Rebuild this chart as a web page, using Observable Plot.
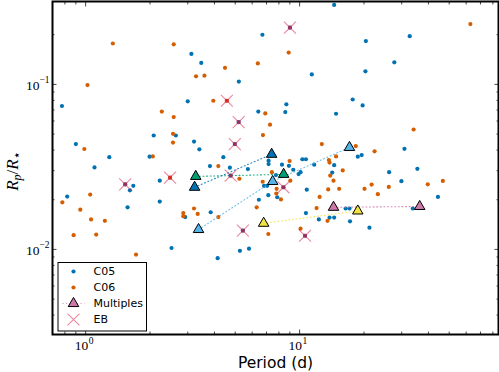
<!DOCTYPE html>
<html><head><meta charset="utf-8">
<script src="https://cdn.jsdelivr.net/npm/d3@7"></script>
<script src="https://cdn.jsdelivr.net/npm/@observablehq/plot@0.6"></script>
<style>
html,body{margin:0;padding:0;background:#fff;}
#chart{width:499px;height:372px;}
</style></head><body><div id="chart"></div>
<script>
// ---- Data ----
const c05Period = [3.12,3.47,5.2,3.0,0.775,2.64,2.08,3.21,3.40,0.90,1.29,1.99,4.40,1.10,3.81,4.72,5.73,2.22,1.67,1.61,0.82,1.57,2.22,3.84,2.92,2.52,4.14,5.26,5.80,
  14.5,6.7,20.4,32.7,27.7,20.3,11.4,17.7,19.7,6.41,8.67,8.57,14.8,30.9,10.3,10.7,18.7,19.5,7.16,7.16,8.27,8.91,11.7,9.34,10.1,9.89,14.5,14.2,26.2,35.5,29.9,7.75,6.82,7.05,10.8,
  7.14,7.86,6.45,10.7,12.3,13.8,14.5,16.4,17.1,17.2,21.2,33.8,44.3];
const c05Ratio = [0.153,0.135,0.104,0.079,0.074,0.049,0.049,0.045,0.0404,0.0435,0.0362,0.0365,0.0362,0.0314,0.032,0.0313,0.0307,0.0261,0.0243,0.0228,0.0209,0.018,0.0195,0.0168,0.0157,0.0102,0.00885,0.0098,0.0101,
  0.303,0.200,0.183,0.196,0.136,0.120,0.115,0.081,0.0746,0.0684,0.0757,0.068,0.0664,0.0407,0.0352,0.0352,0.0365,0.0373,0.0345,0.0329,0.0326,0.0321,0.0326,0.0304,0.0294,0.0286,0.0324,0.0292,0.0294,0.0308,0.0259,0.0282,0.0243,0.0243,0.0230,
  0.0213,0.0207,0.0200,0.0166,0.0152,0.0156,0.0156,0.0177,0.0177,0.0148,0.01355,0.0177,0.0208];

const c06Period = [1.34,2.58,1.02,3.28,3.59,4.48,3.95,2.27,2.58,2.56,2.56,0.986,2.06,4.17,5.23,
  62.8,8.89,6.38,6.91,7.27,6.74,34.1,12.7,18.3,22.4,14.8,13.7,13.8,8.98,15.9,7.42,6.72,9.05,13.9,14.4,15.3,13.6,20.1,21.7,26.1,39.7,46.7,7.81,
  7.78,8.18,6.30,7.14,10.1,12.0,12.4,13.5,23.2,
  0.778,1.05,0.944,1.06,1.23,0.879,1.12,1.72,2.86,2.86,3.21,3.34,4.17];
const c06Ratio = [0.177,0.175,0.099,0.112,0.113,0.126,0.0796,0.0684,0.0634,0.0502,0.0444,0.0406,0.0366,0.032,0.0268,
  0.232,0.156,0.134,0.0667,0.057,0.0493,0.0533,0.0435,0.0423,0.0393,0.0366,0.0348,0.0336,0.0343,0.0301,0.0294,0.0257,0.0261,0.028,0.0261,0.0233,0.0231,0.0233,0.0247,0.0239,0.0248,0.026,0.0233,
  0.0218,0.0201,0.018,0.0124,0.01335,0.0178,0.0208,0.0149,0.0216,
  0.0193,0.0215,0.0174,0.0152,0.0149,0.0122,0.0123,0.0093,0.0166,0.0159,0.0177,0.0164,0.0157];

const ebPeriod  = [4.57,2.48,5.19,4.98,1.53,4.76,9.01,8.40,5.43,10.6];
const ebRatio   = [0.0796,0.0272,0.0591,0.0435,0.0248,0.028,0.221,0.0238,0.0130,0.0121];
const ebCatalog = ["C06","C06","C05","C05","C05","C05","C05","C05","C05","C05"];

const multSystem = ["A","A","B","B","C","C","C","D","D","E","E"];
const multPeriod = [3.27,8.42, 3.23,7.40, 3.37,7.48,17.1, 6.79,18.7, 14.4,36.4];
const multRatio  = [0.0277,0.0285, 0.0238,0.0377, 0.0132,0.0258,0.0415, 0.0144,0.0171, 0.0180,0.0182];
const systemNames = ["A","B","C","D","E"];
const systemColors = ["#009E73","#0072B2","#56B4E9","#F0E442","#CC79A7"];

const xMajor = [1, 10];
const xTickExp = ["0", "1"];
const xMinor = [0.7,0.8,0.9,2,3,4,5,6,7,8,9,20,30,40,50,60,70,80];
const yMajor = [0.01, 0.1];
const yTickExp = ["\u22122", "\u22121"];
const yMinor = [0.004,0.005,0.006,0.007,0.008,0.009,0.02,0.03,0.04,0.05,0.06,0.07,0.08,0.09,0.2];

const legendLabels = ["C05", "C06", "Multiples", "EB"];

const BLUE = "#0072B2", ORANGE = "#D55E00", EBC = "crimson";

// ---- tables ----
const c05 = c05Period.map((p, i) => ({period: p, ratio: c05Ratio[i]}));
const c06 = c06Period.map((p, i) => ({period: p, ratio: c06Ratio[i]}));
const eb = ebPeriod.map((p, i) => ({period: p, ratio: ebRatio[i], cat: ebCatalog[i]}));
const mult = multPeriod.map((p, i) => ({period: p, ratio: multRatio[i], sys: multSystem[i]}));

const serif = "'Liberation Serif', 'DejaVu Serif', serif";
const sans = "'DejaVu Sans', sans-serif";

const tickOpts = (anchor, size) => ({anchor, tickSize: size, tickFormat: () => "", label: null, stroke: "#444", strokeWidth: 1});

const lineSymbol = {draw(ctx) { ctx.moveTo(-11, 0); ctx.lineTo(11, 0); }};

const legendRowsDy = [-63, -47, -31, -15];
const dotted = {strokeWidth: 1.1, strokeDasharray: "1,2.6", strokeOpacity: 0.85};

const marks = [
  // data
  Plot.dot(c05, {x: "period", y: "ratio", r: 2.1, fill: BLUE}),
  Plot.dot(c06, {x: "period", y: "ratio", r: 2.1, fill: ORANGE}),
  ...systemNames.map((s, k) => Plot.line(mult.filter(m => m.sys === s), {x: "period", y: "ratio", stroke: systemColors[k], ...dotted})),
  ...systemNames.map((s, k) => Plot.dot(mult.filter(m => m.sys === s), {x: "period", y: "ratio", symbol: "triangle", r: 3.9, fill: systemColors[k], stroke: "black", strokeWidth: 1})),
  Plot.dot(eb.filter(d => d.cat === "C05"), {x: "period", y: "ratio", r: 2.1, fill: BLUE}),
  Plot.dot(eb.filter(d => d.cat === "C06"), {x: "period", y: "ratio", r: 2.1, fill: ORANGE}),
  Plot.dot(eb, {x: "period", y: "ratio", symbol: "square", r: 2.2, fill: EBC, fillOpacity: 0.5}),
  Plot.dot(eb, {x: "period", y: "ratio", symbol: "times", r: 5.5, stroke: EBC, strokeOpacity: 0.5, strokeWidth: 1.1}),

  // ticks (inward, all four sides)
  Plot.axisX(xMajor, tickOpts("bottom", -4.5)),
  Plot.axisX(xMajor, tickOpts("top", -4.5)),
  Plot.axisX(xMinor, tickOpts("bottom", -2.5)),
  Plot.axisX(xMinor, tickOpts("top", -2.5)),
  Plot.axisY(yMajor, tickOpts("left", -4.5)),
  Plot.axisY(yMajor, tickOpts("right", -4.5)),
  Plot.axisY(yMinor, tickOpts("left", -2.5)),
  Plot.axisY(yMinor, tickOpts("right", -2.5)),

  // tick labels 10^n
  Plot.text(xMajor, {x: d => d, frameAnchor: "bottom", text: () => "10", textAnchor: "end", dx: 2.5, dy: 11, lineAnchor: "middle", fontSize: 13.5, fontFamily: serif, fill: "black"}),
  Plot.text(xMajor, {x: d => d, frameAnchor: "bottom", text: (d, i) => xTickExp[i], textAnchor: "start", dx: 3, dy: 6.5, lineAnchor: "middle", fontSize: 9.5, fontFamily: serif, fill: "black"}),
  Plot.text(yMajor, {y: d => d, frameAnchor: "left", text: () => "10", textAnchor: "end", dx: -13, dy: 1, lineAnchor: "middle", fontSize: 13.5, fontFamily: serif, fill: "black"}),
  Plot.text(yMajor, {y: d => d, frameAnchor: "left", text: (d, i) => yTickExp[i], textAnchor: "start", dx: -13, dy: -4, lineAnchor: "middle", fontSize: 9.5, fontFamily: serif, fill: "black"}),

  // x label
  Plot.text(["Period (d)"], {frameAnchor: "bottom", text: d => d, dy: 29, lineAnchor: "middle", fontSize: 15.5, fontFamily: sans, fill: "black"}),

  // frame
  Plot.frame({stroke: "black", strokeWidth: 2}),

  // legend
  Plot.frame({fill: "white", stroke: "black", strokeWidth: 1, insetLeft: 5.5, insetRight: 352, insetTop: 261, insetBottom: 3.5}),
  Plot.dot([0], {frameAnchor: "bottom-left", dx: 21, dy: legendRowsDy[0], r: 2.1, fill: BLUE}),
  Plot.dot([0], {frameAnchor: "bottom-left", dx: 21, dy: legendRowsDy[1], r: 2.1, fill: ORANGE}),
  Plot.dot([0], {frameAnchor: "bottom-left", dx: 21, dy: legendRowsDy[2], symbol: lineSymbol, r: 5, stroke: "#CC79A7", ...dotted}),
  Plot.dot([0], {frameAnchor: "bottom-left", dx: 21, dy: legendRowsDy[2], symbol: "triangle", r: 3.9, fill: "#CC79A7", stroke: "black", strokeWidth: 1}),
  Plot.dot([0], {frameAnchor: "bottom-left", dx: 21, dy: legendRowsDy[3], symbol: "times", r: 5.5, stroke: EBC, strokeOpacity: 0.5, strokeWidth: 1.1}),
  ...legendLabels.map((lab, i) => Plot.text([lab], {frameAnchor: "bottom-left", text: d => d, dx: 41, dy: legendRowsDy[i], textAnchor: "start", lineAnchor: "middle", fontSize: 11, fontFamily: sans, fill: "black"}))
];

const chart = Plot.plot({
  width: 499, height: 372,
  marginLeft: 52, marginRight: 1, marginTop: 1, marginBottom: 38,
  x: {type: "log", domain: [0.7, 85]},
  y: {type: "log", domain: [0.00305, 0.318]},
  style: {background: "#fff", fontFamily: sans, overflow: "visible"},
  marks
});

// y label R_p / R_star with sub-scripts
const svg = d3.select(chart);
const t = svg.append("text")
  .attr("transform", "translate(18,171) rotate(-90)")
  .attr("text-anchor", "middle")
  .attr("font-family", serif)
  .attr("font-size", 17)
  .attr("fill", "black");
t.append("tspan").attr("font-style", "italic").text("R");
t.append("tspan").attr("font-style", "italic").attr("font-size", 12).attr("dy", 3).text("p");
t.append("tspan").attr("dy", -3).text("/");
t.append("tspan").attr("font-style", "italic").text("R");
t.append("tspan").attr("font-size", 13).attr("dy", 3).attr("font-family", "'DejaVu Sans', sans-serif").text("\u22c6");

document.getElementById("chart").appendChild(chart);
</script>
</body></html>
